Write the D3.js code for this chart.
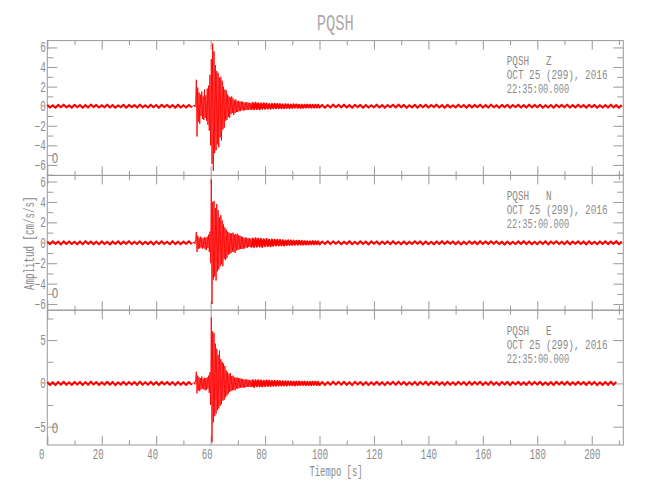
<!DOCTYPE html>
<html><head><meta charset="utf-8">
<script src="https://cdn.jsdelivr.net/npm/d3@7"></script>
<style>
html,body{margin:0;padding:0;background:#fff;}
svg{display:block;}
text{font-family:"Liberation Mono","DejaVu Sans Mono",monospace;fill:#8a8a8a;}
</style></head><body>
<svg id="chart" width="650" height="500"></svg>
<script>
// ---------- labels ----------
const titleText = "PQSH";
const station = "PQSH";
const channels = ["Z", "N", "E"];
const dateLabel = "OCT 25 (299), 2016";
const timeLabel = "22:35:00.000";
const xLabel = "Tiempo [s]";
const yLabel = "Amplitud [cm/s/s]";
const cornerMark = "O";

// ---------- axes ----------
const xDomain = [0, 211.6];
const xTicks = [0, 20, 40, 60, 80, 100, 120, 140, 160, 180, 200];
const xMinorTicks = [10, 30, 50, 70, 90, 110, 130, 150, 170, 190, 210];
const yDomainZ = [-7.07, 6.7];
const yDomainN = [-6.6, 6.6];
const yDomainE = [-7.12, 8.46];
const yTicksZ = [-6, -4, -2, 0, 2, 4, 6];
const yMinorZ = [-7, -5, -3, -1, 1, 3, 5];
const yTicksN = [-6, -4, -2, 0, 2, 4, 6];
const yMinorN = [-5, -3, -1, 1, 3, 5];
const yTicksE = [-5, 0, 5];
const yMinorE = [-2.5, 2.5, 7.5];

// ---------- sampling of each data segment: [start time s, step s] ----------
const preSampling = [0, 1];
const eventSampling = [54, 0.25];
const codaSampling = [75, 0.5];
const postSampling = [100, 1];

// ---------- Z component ----------
const zPre = [0.12,-0.14,0.1,-0.16,0.13,-0.11,0.15,-0.12,0.09,-0.15,
0.14,-0.1,0.12,-0.17,0.11,-0.13,0.16,-0.09,0.13,-0.14,
0.1,-0.12,0.15,-0.13,0.12,-0.16,0.09,-0.11,0.14,-0.15,
0.13,-0.1,0.11,-0.14,0.16,-0.12,0.1,-0.13,0.15,-0.11,
0.12,-0.15,0.14,-0.1,0.13,-0.12,0.11,-0.16,0.15,-0.13,
0.1,-0.14,0.12,-0.11];
const zEvent = [0.12,-0.1,0.2,2.7,-3.1,1.9,-1.6,1.4,-1.8,1.2,
-1.0,1.5,-1.3,1.0,-1.4,1.7,-1.2,1.1,-1.5,1.8,
-1.9,2.1,-2.5,3.2,-4.0,4.8,-5.9,6.4,-6.6,5.6,
-4.8,4.2,-4.5,3.6,-3.9,3.4,-4.2,2.9,-3.2,3.0,
-3.5,2.6,-2.4,2.0,-2.2,1.7,-1.5,1.6,-1.4,1.2,
-1.1,1.0,-1.2,0.9,-0.8,1.0,-0.7,0.8,-0.9,0.6,
-0.7,0.7,-0.6,0.5,-0.6,0.55,-0.5,0.45,-0.5,0.5,
-0.4,0.45,-0.45,0.4,-0.42,0.38,-0.4,0.42,-0.35,0.36,
-0.38,0.33,-0.35,0.32];
const zCoda = [-0.35,0.33,-0.3,0.34,-0.28,0.3,-0.32,0.27,-0.26,0.29,
-0.25,0.27,-0.24,0.22,-0.26,0.23,-0.21,0.24,-0.2,0.22,
-0.19,0.21,-0.2,0.18,-0.19,0.2,-0.17,0.18,-0.19,0.16,
-0.17,0.18,-0.15,0.17,-0.16,0.15,-0.17,0.14,-0.16,0.15,
-0.14,0.16,-0.13,0.15,-0.14,0.13,-0.15,0.14,-0.13,0.15];
const zPost = [-0.14,0.13,-0.15,0.12,-0.13,0.16,-0.11,0.14,-0.12,0.15,
-0.13,0.11,-0.16,0.14,-0.1,0.13,-0.15,0.12,-0.14,0.1,
-0.12,0.15,-0.13,0.11,-0.16,0.12,-0.1,0.14,-0.13,0.16,
-0.11,0.13,-0.15,0.1,-0.12,0.14,-0.16,0.13,-0.11,0.15,
-0.14,0.12,-0.1,0.16,-0.13,0.11,-0.15,0.14,-0.12,0.1,
-0.13,0.15,-0.11,0.12,-0.16,0.14,-0.12,0.13,-0.1,0.15,
-0.14,0.11,-0.13,0.16,-0.12,0.1,-0.15,0.13,-0.11,0.14,
-0.16,0.12,-0.1,0.15,-0.13,0.11,-0.14,0.16,-0.12,0.13,
-0.11,0.14,-0.15,0.1,-0.13,0.12,-0.16,0.15,-0.1,0.13,
-0.12,0.16,-0.14,0.11,-0.13,0.15,-0.1,0.12,-0.15,0.14,
-0.11,0.13,-0.16,0.1,-0.14,0.12,-0.13,0.15,-0.12,0.11,
-0.15,0.13];

// ---------- N component ----------
const nPre = [0.11,-0.13,0.15,-0.1,0.12,-0.16,0.14,-0.11,0.13,-0.12,
0.1,-0.15,0.13,-0.14,0.16,-0.1,0.12,-0.13,0.11,-0.15,
0.14,-0.12,0.1,-0.16,0.13,-0.11,0.15,-0.14,0.12,-0.1,
0.16,-0.13,0.11,-0.12,0.14,-0.15,0.1,-0.13,0.12,-0.16,
0.13,-0.11,0.15,-0.12,0.1,-0.14,0.16,-0.13,0.11,-0.15,
0.12,-0.1,0.14,-0.12];
const nEvent = [0.1,-0.12,0.3,1.05,-0.9,0.7,-0.6,0.5,-0.55,0.6,
-0.45,0.5,-0.6,0.45,-0.5,0.55,-0.65,0.5,-0.7,0.6,
-0.5,0.8,-0.9,1.1,-2.0,6.2,-6.0,4.0,-3.6,4.1,
-3.3,3.4,-3.7,3.8,-2.8,3.2,-2.6,2.5,-2.3,2.7,
-2.1,2.2,-2.3,1.8,-1.6,1.5,-1.7,1.3,-1.5,1.1,
-1.2,1.0,-1.1,0.9,-1.0,0.95,-0.85,1.0,-0.9,0.8,
-1.0,0.85,-0.75,0.9,-0.7,0.75,-0.65,0.7,-0.6,0.65,
-0.6,0.55,-0.6,0.5,-0.55,0.5,-0.45,0.5,-0.5,0.45,
-0.4,0.45,-0.42,0.4];
const nCoda = [-0.45,0.42,-0.4,0.44,-0.38,0.4,-0.36,0.38,-0.4,0.35,
-0.33,0.36,-0.32,0.3,-0.34,0.31,-0.29,0.3,-0.27,0.29,
-0.26,0.28,-0.25,0.24,-0.26,0.23,-0.22,0.24,-0.21,0.22,
-0.2,0.21,-0.19,0.2,-0.18,0.19,-0.17,0.18,-0.17,0.16,
-0.17,0.15,-0.16,0.14,-0.15,0.16,-0.14,0.15,-0.13,0.14];
const nPost = [-0.16,0.12,-0.11,0.15,-0.13,0.14,-0.1,0.13,-0.15,0.11,
-0.12,0.16,-0.14,0.1,-0.13,0.15,-0.11,0.12,-0.16,0.14,
-0.1,0.13,-0.15,0.12,-0.11,0.14,-0.13,0.16,-0.12,0.1,
-0.15,0.13,-0.14,0.11,-0.12,0.15,-0.1,0.14,-0.16,0.12,
-0.13,0.1,-0.15,0.13,-0.11,0.16,-0.12,0.14,-0.1,0.13,
-0.14,0.12,-0.16,0.11,-0.13,0.15,-0.1,0.12,-0.14,0.16,
-0.11,0.13,-0.12,0.15,-0.1,0.14,-0.13,0.11,-0.16,0.12,
-0.15,0.1,-0.13,0.14,-0.11,0.16,-0.12,0.13,-0.15,0.1,
-0.14,0.12,-0.11,0.15,-0.16,0.13,-0.1,0.14,-0.12,0.11,
-0.13,0.16,-0.15,0.12,-0.1,0.14,-0.11,0.13,-0.16,0.15,
-0.12,0.1,-0.14,0.13,-0.11,0.15,-0.13,0.12,-0.1,0.16,
-0.14,0.12];

// ---------- E component ----------
const ePre = [0.16,-0.18,0.14,-0.2,0.17,-0.15,0.19,-0.16,0.13,-0.18,
0.17,-0.14,0.16,-0.19,0.15,-0.17,0.2,-0.13,0.16,-0.18,
0.14,-0.16,0.19,-0.15,0.17,-0.2,0.13,-0.15,0.18,-0.17,
0.16,-0.14,0.15,-0.18,0.2,-0.16,0.14,-0.17,0.19,-0.15,
0.16,-0.19,0.18,-0.14,0.17,-0.16,0.15,-0.2,0.18,-0.17,
0.14,-0.18,0.16,-0.15];
const eEvent = [0.15,-0.12,0.4,1.35,-1.15,0.9,-0.8,0.7,-0.9,0.6,
-0.7,0.8,-0.6,0.55,-0.7,0.65,-0.8,0.6,-0.75,0.7,
-0.6,0.9,-1.1,1.3,-2.5,7.6,-6.8,6.0,-4.5,5.8,
-3.8,4.6,-3.5,4.0,-3.1,3.3,-2.9,3.8,-2.6,2.8,
-2.4,2.5,-2.0,2.3,-1.9,2.0,-1.6,1.5,-1.4,1.3,
-1.2,1.1,-1.0,1.2,-0.9,0.85,-0.8,0.9,-0.75,0.7,
-0.8,0.65,-0.6,0.7,-0.6,0.6,-0.55,0.6,-0.5,0.55,
-0.5,0.5,-0.48,0.45,-0.5,0.45,-0.42,0.46,-0.4,0.42,
-0.4,0.38,-0.4,0.36];
const eCoda = [-0.38,0.36,-0.4,0.35,-0.33,0.36,-0.34,0.32,-0.35,0.31,
-0.3,0.32,-0.29,0.3,-0.31,0.28,-0.27,0.29,-0.26,0.27,
-0.25,0.26,-0.24,0.25,-0.23,0.24,-0.22,0.23,-0.21,0.22,
-0.21,0.2,-0.22,0.2,-0.19,0.21,-0.2,0.19,-0.18,0.2,
-0.19,0.18,-0.2,0.17,-0.19,0.18,-0.17,0.19,-0.18,0.17];
const ePost = [-0.18,0.16,-0.19,0.15,-0.17,0.2,-0.14,0.18,-0.16,0.19,
-0.17,0.14,-0.2,0.18,-0.13,0.16,-0.19,0.15,-0.18,0.14,
-0.16,0.19,-0.17,0.14,-0.2,0.16,-0.13,0.18,-0.17,0.2,
-0.14,0.17,-0.19,0.13,-0.16,0.18,-0.2,0.17,-0.14,0.19,
-0.18,0.15,-0.13,0.2,-0.17,0.14,-0.19,0.18,-0.16,0.13,
-0.17,0.19,-0.14,0.16,-0.2,0.18,-0.15,0.17,-0.13,0.19,
-0.18,0.14,-0.17,0.2,-0.16,0.13,-0.19,0.17,-0.14,0.18,
-0.2,0.16,-0.13,0.19,-0.17,0.14,-0.18,0.2,-0.15,0.17,
-0.14,0.18,-0.19,0.13,-0.17,0.16,-0.2,0.19,-0.13,0.17,
-0.16,0.2,-0.18,0.14,-0.17,0.19,-0.13,0.16,-0.19,0.18,
-0.14,0.17,-0.2,0.13,-0.18,0.16,-0.17,0.19,-0.16,0.15];

// ---------- build ----------
function segmentPoints(sampling, values) {
  return values.map((v, i) => [sampling[0] + i * sampling[1], v]);
}
function makePanel(ch, dom, major, minor, pre, ev, coda, post) {
  const preP = segmentPoints(preSampling, pre);
  const evP = segmentPoints(eventSampling, ev);
  const codaP = segmentPoints(codaSampling, coda);
  const postP = segmentPoints(postSampling, post);
  return {ch, dom, major, minor,
    data: [].concat(preP, evP, codaP, postP),
    quiet: [preP, codaP.concat(postP)]};
}
const panels = [
  makePanel(channels[0], yDomainZ, yTicksZ, yMinorZ, zPre, zEvent, zCoda, zPost),
  makePanel(channels[1], yDomainN, yTicksN, yMinorN, nPre, nEvent, nCoda, nPost),
  makePanel(channels[2], yDomainE, yTicksE, yMinorE, ePre, eEvent, eCoda, ePost)
];

const svg = d3.select("#chart");
const plotL = 47.3, plotR = 623.3, plotT = 40.6, plotB = 445;
const ph = (plotB - plotT) / 3;
const x = d3.scaleLinear().domain(xDomain).range([plotL, plotR]);
const axisColor = "#999";
const fmt = d => d < 0 ? "\u2212" + Math.abs(d) : String(d);

// condensed monospace text: every character gets the same advance
function squeeze(sel, adv) {
  sel.each(function () {
    const t = d3.select(this), s = t.text();
    if (s.length) t.attr("textLength", s.length * adv).attr("lengthAdjust", "spacingAndGlyphs");
  });
}

// title
svg.append("text").attr("x", (plotL + plotR) / 2).attr("y", 30)
  .attr("text-anchor", "middle").attr("font-size", 22)
  .style("fill", "#ababab").text(titleText).call(squeeze, 9.3);

panels.forEach((p, i) => {
  const y0 = plotT + i * ph, y1 = y0 + ph;
  const y = d3.scaleLinear().domain(p.dom).range([y1, y0]);
  const g = svg.append("g");

  g.append("rect").attr("x", plotL).attr("y", y0).attr("width", plotR - plotL).attr("height", ph)
    .attr("fill", "none").attr("stroke", axisColor).attr("stroke-width", 1);

  const clean = s => s.call(a => a.select(".domain").remove()).attr("color", axisColor).attr("font-family", null).attr("font-size", null);

  g.append("g").attr("transform", `translate(${plotL},0)`)
    .call(d3.axisLeft(y).tickValues(p.major).tickSize(-10).tickPadding(1.5).tickFormat(fmt)).call(clean)
    .selectAll("text").attr("font-size", 14).call(squeeze, 5.6);
  g.append("g").attr("transform", `translate(${plotL},0)`)
    .call(d3.axisLeft(y).tickValues(p.minor).tickSize(-6).tickFormat("")).call(clean);
  g.append("g").attr("transform", `translate(${plotR},0)`)
    .call(d3.axisRight(y).tickValues(p.major).tickSize(-10).tickFormat("")).call(clean);
  g.append("g").attr("transform", `translate(${plotR},0)`)
    .call(d3.axisRight(y).tickValues(p.minor).tickSize(-6).tickFormat("")).call(clean);
  g.append("g").attr("transform", `translate(0,${y0})`)
    .call(d3.axisTop(x).tickValues(xTicks).tickSize(-9).tickFormat("")).call(clean);
  g.append("g").attr("transform", `translate(0,${y0})`)
    .call(d3.axisTop(x).tickValues(xMinorTicks).tickSize(-4.5).tickFormat("")).call(clean);
  const bAx = g.append("g").attr("transform", `translate(0,${y1})`)
    .call(d3.axisBottom(x).tickValues(xTicks).tickSize(-9).tickPadding(4)
      .tickFormat(i === 2 ? fmt : "")).call(clean);
  bAx.selectAll("text").attr("font-size", 14)
    .attr("dx", d => String(d).length === 1 ? -6 : String(d).length === 2 ? -4 : 0).call(squeeze, 5.4);
  g.append("g").attr("transform", `translate(0,${y1})`)
    .call(d3.axisBottom(x).tickValues(xMinorTicks).tickSize(-4.5).tickFormat("")).call(clean);

  g.append("text").attr("x", 55).attr("y", y1 - 17.5).attr("dy", "0.36em")
    .attr("text-anchor", "middle").attr("font-size", 15).text(cornerMark).call(squeeze, 6.5);

  const ix = 506.7, adv = 5.6;
  g.append("text").attr("x", ix).attr("y", y0 + 24.4).attr("font-size", 13).text(station).call(squeeze, adv);
  g.append("text").attr("x", ix + 7 * adv).attr("y", y0 + 24.4).attr("font-size", 13).text(p.ch).call(squeeze, adv);
  g.append("text").attr("x", ix).attr("y", y0 + 38.7).attr("font-size", 13).text(dateLabel).call(squeeze, adv);
  g.append("text").attr("x", ix).attr("y", y0 + 52.8).attr("font-size", 13).text(timeLabel).call(squeeze, 5.2);

  p.y = y;
});

panels.forEach(p => {
  const line = d3.line().x(d => x(d[0])).y(d => p.y(d[1]));
  svg.append("path").datum(p.data).attr("d", line)
    .attr("fill", "none").attr("stroke", "#ff0000").attr("stroke-width", 0.9)
    .attr("stroke-linejoin", "round");
  p.quiet.forEach(seg => {
    svg.append("path").datum(seg).attr("d", line)
      .attr("fill", "none").attr("stroke", "#ff0000").attr("stroke-width", 2.1)
      .attr("stroke-linejoin", "round");
  });
});

svg.append("text").attr("x", 336).attr("y", 476).attr("text-anchor", "middle")
  .attr("font-size", 15).text(xLabel).call(squeeze, 5.3);
svg.append("text").attr("transform", "translate(34,243.3) rotate(-90)")
  .attr("text-anchor", "middle").attr("font-size", 15).text(yLabel).call(squeeze, 5.5);
</script>
</body></html>
